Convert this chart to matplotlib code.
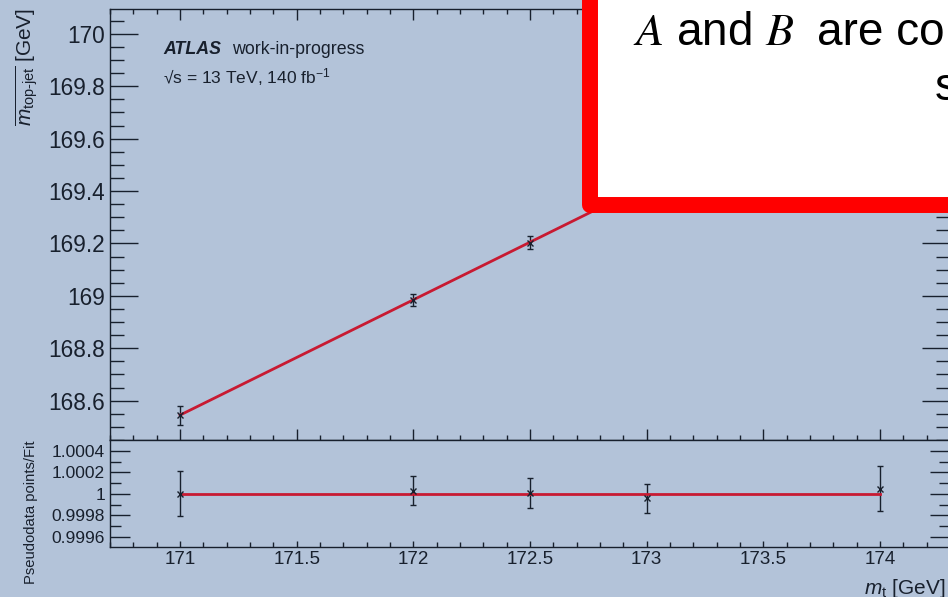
import matplotlib
matplotlib.use('Agg')
import matplotlib.pyplot as plt
from matplotlib.patches import Rectangle
from matplotlib.ticker import MultipleLocator, FixedLocator, FuncFormatter

plt.rcParams['font.family'] = ['Liberation Sans', 'DejaVu Sans']
plt.rcParams['mathtext.fontset'] = 'custom'
plt.rcParams['mathtext.rm'] = 'Liberation Sans'
plt.rcParams['mathtext.it'] = 'Liberation Sans:italic'
plt.rcParams['mathtext.bf'] = 'Liberation Sans:bold'

# pseudodata: mean top-jet mass for each generated top mass
mt = [171.0, 172.0, 172.5, 173.0, 174.0]
mean_mass = [168.545, 168.986, 169.203, 169.418, 169.873]
mean_err = [0.036, 0.023, 0.025, 0.022, 0.036]

# linear calibration fit, drawn between the outer mass points
fit_mt = [171.0, 174.0]
fit_mass = [168.545, 169.865]

# pseudodata / fit
ratio = [1.0, 1.000028, 1.000004, 0.999957, 1.00005]
ratio_err = [0.00021, 0.000136, 0.00014, 0.000132, 0.000213]
ratio_line = [1.0, 1.0]

bg = '#b3c3d9'
ink = '#18202d'
red = '#c81a32'

W, H = 948, 597


def px_rect(x0, y0, x1, y1):
    # pixel box (top-left origin) -> figure fraction
    return [x0 / W, 1 - y1 / H, (x1 - x0) / W, (y1 - y0) / H]


fig = plt.figure(figsize=(W / 100, H / 100), dpi=100, facecolor=bg)
ax = fig.add_axes(px_rect(110, 9, 950, 440), facecolor=bg)
rax = fig.add_axes(px_rect(110, 440, 950, 546.7), facecolor=bg, sharex=ax)

fmt = FuncFormatter(lambda v, p: f'{v:g}')

# main panel
ax.errorbar(mt, mean_mass, yerr=mean_err, fmt='none', ecolor=ink,
            elinewidth=1, capsize=2.5, capthick=1, zorder=2)
ax.plot(fit_mt, fit_mass, color=red, lw=2, zorder=3)
ax.plot(mt, mean_mass, 'x', color=ink, ms=4, mew=1, zorder=4)

ax.set_xlim(170.7, 174.3)
ax.set_ylim(168.45, 170.095)
ax.yaxis.set_major_locator(MultipleLocator(0.2))
ax.yaxis.set_minor_locator(MultipleLocator(0.05))
ax.yaxis.set_major_formatter(fmt)
ax.xaxis.set_major_locator(MultipleLocator(0.5))
ax.xaxis.set_minor_locator(MultipleLocator(0.1))
ax.tick_params(axis='y', which='major', direction='in', length=20, width=1,
               left=True, right=True, labelsize=16.3, pad=3.6,
               color=ink, labelcolor=ink)
ax.tick_params(axis='y', which='minor', direction='in', length=10, width=1,
               left=True, right=True, color=ink)
ax.tick_params(axis='x', which='major', direction='in', length=8, width=1,
               top=True, bottom=True, labelbottom=False, color=ink)
ax.tick_params(axis='x', which='minor', direction='in', length=3.8, width=1,
               top=True, bottom=True, color=ink)

# ratio panel
rax.errorbar(mt, ratio, yerr=ratio_err, fmt='none', ecolor=ink,
             elinewidth=1, capsize=2.5, capthick=1, zorder=2)
rax.plot(fit_mt, ratio_line, color=red, lw=2, zorder=3)
rax.plot(mt, ratio, 'x', color=ink, ms=4, mew=1, zorder=4)

rax.set_ylim(0.999507, 1.000503)
rax.yaxis.set_major_locator(FixedLocator([0.9996, 0.9998, 1.0, 1.0002, 1.0004]))
rax.yaxis.set_minor_locator(FixedLocator([0.9997, 0.9999, 1.0001, 1.0003]))
rax.yaxis.set_major_formatter(fmt)
rax.xaxis.set_major_formatter(fmt)
rax.tick_params(axis='y', which='major', direction='in', length=14.4, width=1,
                left=True, right=True, labelsize=12.5, pad=3.6,
                color=ink, labelcolor=ink)
rax.tick_params(axis='y', which='minor', direction='in', length=7.7, width=1,
                left=True, right=True, color=ink)
rax.tick_params(axis='x', which='major', direction='in', length=4.5, width=1,
                top=False, bottom=True, labelbottom=True, labelsize=13.5,
                pad=3, color=ink, labelcolor=ink)
rax.tick_params(axis='x', which='minor', direction='in', length=3.6, width=1,
                top=False, bottom=True, color=ink)

for a in (ax, rax):
    for s in a.spines.values():
        s.set_color(ink)
        s.set_linewidth(1)

# axis titles, ROOT style (aligned to the axis ends)
fig.text(32 / W, 1 - 8 / H,
         r'$\overline{m_{\mathrm{top\text{-}jet}}}$ [GeV]',
         rotation=90, rotation_mode='anchor', ha='right', va='baseline',
         fontsize=15, color=ink)
fig.text(35 / W, 1 - 440 / H, 'Pseudodata points/Fit',
         rotation=90, rotation_mode='anchor', ha='right', va='baseline',
         fontsize=10.6, color=ink)
fig.text(946 / W, 1 - 594 / H, r'$m_{\mathrm{t}}$ [GeV]',
         ha='right', va='baseline', fontsize=15, color=ink)

# experiment label
fig.text(163 / W, 1 - 54 / H, 'ATLAS', weight='bold', style='italic',
         fontsize=12.8, color=ink)
fig.text(232 / W, 1 - 54 / H, 'work-in-progress', fontsize=12.8, color=ink)
fig.text(163 / W, 1 - 83 / H, '√s = 13 TeV, 140 fb$^{-1}$',
         fontsize=12.5, color=ink)

# callout box
box = Rectangle((590 / W, 1 - 205 / H), 1.0, 1.0, transform=fig.transFigure,
                facecolor='white', edgecolor='#ff0000', linewidth=11.5,
                joinstyle='round', zorder=10)
fig.add_artist(box)
fig.text(633 / W, 1 - 45 / H, r'$A$ and $B$', fontsize=33,
         math_fontfamily='stix', color='black', zorder=11)
fig.text(817 / W, 1 - 45 / H, 'are co', fontsize=33,
         color='black', zorder=11)
fig.text(935 / W, 1 - 100 / H, 's', fontsize=33, color='black', zorder=11)

fig.savefig('out.png', dpi=100, facecolor=bg)
